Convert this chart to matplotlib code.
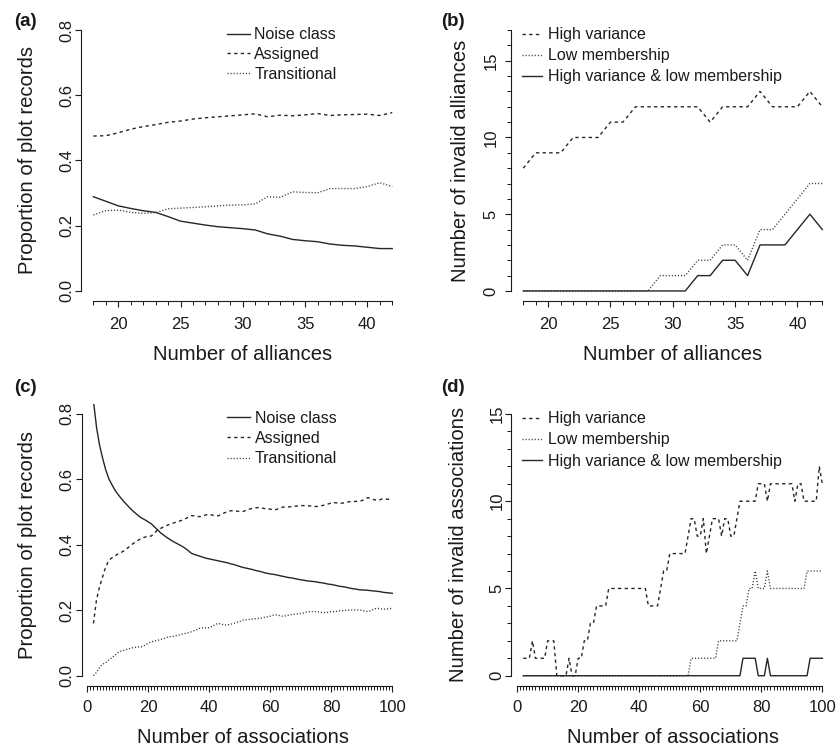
import matplotlib
matplotlib.use("Agg")
import matplotlib.pyplot as plt

plt.rcParams['font.family'] = ['Liberation Sans', 'DejaVu Sans']

# ---------------- data ----------------
alliances = list(range(18, 43))
a_noise = [0.289, 0.275, 0.261, 0.253, 0.246, 0.241, 0.228, 0.214, 0.208, 0.202,
           0.197, 0.194, 0.191, 0.187, 0.175, 0.168, 0.158, 0.154, 0.151, 0.144,
           0.140, 0.138, 0.134, 0.130, 0.130]
a_assigned = [0.475, 0.476, 0.485, 0.496, 0.504, 0.510, 0.517, 0.521, 0.527, 0.531,
              0.534, 0.537, 0.540, 0.543, 0.534, 0.539, 0.537, 0.540, 0.544, 0.538,
              0.540, 0.541, 0.542, 0.538, 0.547]
a_trans = [0.233, 0.246, 0.248, 0.241, 0.238, 0.240, 0.252, 0.254, 0.256, 0.258,
           0.261, 0.263, 0.264, 0.267, 0.289, 0.287, 0.304, 0.302, 0.301, 0.314,
           0.314, 0.314, 0.320, 0.332, 0.320]

b_highvar = [8, 9, 9, 9, 10, 10, 10, 11, 11, 12, 12, 12, 12, 12, 12, 11, 12, 12, 12, 13,
             12, 12, 12, 13, 12]
b_lowmem = [0, 0, 0, 0, 0, 0, 0, 0, 0, 0, 0, 1, 1, 1, 2, 2, 3, 3, 2, 4, 4, 5, 6, 7, 7]
b_both = [0, 0, 0, 0, 0, 0, 0, 0, 0, 0, 0, 0, 0, 0, 1, 1, 2, 2, 1, 3, 3, 3, 4, 5, 4]

associations = list(range(2, 101))
c_noise = [0.840, 0.760, 0.705, 0.665, 0.630, 0.603, 0.585, 0.568, 0.555, 0.543,
           0.532, 0.522, 0.512, 0.503, 0.495, 0.487, 0.481, 0.476, 0.470, 0.464,
           0.455, 0.446, 0.437, 0.430, 0.423, 0.417, 0.411, 0.406, 0.401, 0.396,
           0.390, 0.383, 0.375, 0.371, 0.368, 0.365, 0.362, 0.359, 0.357, 0.355,
           0.353, 0.351, 0.349, 0.347, 0.345, 0.342, 0.340, 0.337, 0.334, 0.331,
           0.329, 0.327, 0.325, 0.322, 0.320, 0.318, 0.315, 0.313, 0.311, 0.310,
           0.308, 0.306, 0.304, 0.302, 0.300, 0.299, 0.297, 0.295, 0.293, 0.292,
           0.290, 0.289, 0.288, 0.287, 0.285, 0.284, 0.282, 0.280, 0.279, 0.277,
           0.275, 0.273, 0.272, 0.270, 0.268, 0.266, 0.265, 0.263, 0.262, 0.262,
           0.261, 0.260, 0.259, 0.258, 0.257, 0.255, 0.254, 0.253, 0.252]
c_assigned = [0.160, 0.232, 0.272, 0.302, 0.332, 0.352, 0.360, 0.366, 0.372, 0.376,
              0.382, 0.389, 0.396, 0.404, 0.410, 0.416, 0.421, 0.424, 0.426, 0.427,
              0.436, 0.445, 0.450, 0.455, 0.459, 0.463, 0.466, 0.469, 0.472, 0.475,
              0.479, 0.484, 0.489, 0.489, 0.487, 0.486, 0.489, 0.492, 0.493, 0.491,
              0.488, 0.489, 0.494, 0.498, 0.501, 0.504, 0.505, 0.503, 0.502, 0.502,
              0.505, 0.509, 0.511, 0.513, 0.514, 0.513, 0.511, 0.511, 0.509, 0.507,
              0.508, 0.512, 0.515, 0.516, 0.516, 0.517, 0.518, 0.519, 0.520, 0.520,
              0.519, 0.519, 0.518, 0.517, 0.518, 0.520, 0.522, 0.525, 0.528, 0.529,
              0.528, 0.527, 0.528, 0.530, 0.532, 0.532, 0.533, 0.533, 0.535, 0.540,
              0.544, 0.542, 0.538, 0.536, 0.538, 0.541, 0.540, 0.539, 0.539]
c_trans = [0.000, 0.010, 0.025, 0.035, 0.040, 0.048, 0.055, 0.062, 0.070, 0.075,
           0.078, 0.081, 0.083, 0.086, 0.087, 0.088, 0.089, 0.094, 0.100, 0.104,
           0.106, 0.108, 0.111, 0.113, 0.117, 0.119, 0.120, 0.122, 0.124, 0.127,
           0.129, 0.131, 0.134, 0.138, 0.141, 0.146, 0.147, 0.146, 0.147, 0.151,
           0.157, 0.160, 0.157, 0.155, 0.155, 0.157, 0.160, 0.163, 0.166, 0.170,
           0.171, 0.172, 0.173, 0.174, 0.175, 0.176, 0.178, 0.180, 0.182, 0.185,
           0.186, 0.184, 0.182, 0.183, 0.185, 0.187, 0.188, 0.189, 0.190, 0.192,
           0.195, 0.196, 0.196, 0.196, 0.195, 0.193, 0.193, 0.194, 0.196, 0.196,
           0.197, 0.199, 0.199, 0.200, 0.201, 0.201, 0.201, 0.201, 0.200, 0.198,
           0.196, 0.199, 0.204, 0.206, 0.205, 0.203, 0.204, 0.205, 0.206]

d_highvar = [1, 1, 1, 2, 1, 1, 1, 1, 2, 2,
             2, 0, 0, 0, 0, 1, 0, 0, 1, 1,
             2, 2, 3, 3, 4, 4, 4, 4, 5, 5,
             5, 5, 5, 5, 5, 5, 5, 5, 5, 5,
             5, 4, 4, 4, 4, 5, 6, 6, 7, 7,
             7, 7, 7, 7, 8, 9, 9, 8, 8, 9,
             7, 8, 9, 9, 9, 8, 9, 9, 8, 8,
             9, 10, 10, 10, 10, 10, 10, 11, 11, 11,
             10, 11, 11, 11, 11, 11, 11, 11, 11, 10,
             11, 11, 10, 10, 10, 10, 10, 12, 11]
d_lowmem = [0, 0, 0, 0, 0, 0, 0, 0, 0, 0,
            0, 0, 0, 0, 0, 0, 0, 0, 0, 0,
            0, 0, 0, 0, 0, 0, 0, 0, 0, 0,
            0, 0, 0, 0, 0, 0, 0, 0, 0, 0,
            0, 0, 0, 0, 0, 0, 0, 0, 0, 0,
            0, 0, 0, 0, 0, 1, 1, 1, 1, 1,
            1, 1, 1, 1, 2, 2, 2, 2, 2, 2,
            2, 3, 4, 4, 5, 5, 6, 5, 5, 5,
            6, 5, 5, 5, 5, 5, 5, 5, 5, 5,
            5, 5, 5, 6, 6, 6, 6, 6, 6]
d_both = [0, 0, 0, 0, 0, 0, 0, 0, 0, 0,
          0, 0, 0, 0, 0, 0, 0, 0, 0, 0,
          0, 0, 0, 0, 0, 0, 0, 0, 0, 0,
          0, 0, 0, 0, 0, 0, 0, 0, 0, 0,
          0, 0, 0, 0, 0, 0, 0, 0, 0, 0,
          0, 0, 0, 0, 0, 0, 0, 0, 0, 0,
          0, 0, 0, 0, 0, 0, 0, 0, 0, 0,
          0, 0, 1, 1, 1, 1, 1, 0, 0, 0,
          1, 0, 0, 0, 0, 0, 0, 0, 0, 0,
          0, 0, 0, 0, 1, 1, 1, 1, 1]

# ---------------- styles ----------------
W, H = 836, 749
DPI = 100
TXT = '#1a1a1a'
LW = 1.0
SOLID = dict(color='#262626', lw=LW, linestyle='-')
DASHED = dict(color='#262626', lw=LW, linestyle=(0, (2.4, 2.4)))
DOTTED = dict(color='#3a3a3a', lw=LW, linestyle=(0, (0.8, 1.4)))

fig = plt.figure(figsize=(W / DPI, H / DPI), dpi=DPI)


def add_ax(l, r, t, b):
    return fig.add_axes([l / W, 1 - b / H, (r - l) / W, (b - t) / H])


def style_axes(ax, xlim, ylim, xbounds, ybounds, xmaj, xmin, ymaj, ymin, ylabfmt,
               ypad, xpad):
    ax.set_xlim(*xlim)
    ax.set_ylim(*ylim)
    for s in ('top', 'right'):
        ax.spines[s].set_visible(False)
    ax.spines['left'].set_bounds(*ybounds)
    ax.spines['bottom'].set_bounds(*xbounds)
    for s in ('left', 'bottom'):
        ax.spines[s].set_linewidth(0.8)
        ax.spines[s].set_color('#1a1a1a')
    ax.set_xticks(xmaj)
    ax.set_xticks(xmin, minor=True)
    ax.set_yticks(ymaj)
    ax.set_yticklabels([ylabfmt(v) for v in ymaj])
    if ymin is not None:
        ax.set_yticks(ymin, minor=True)
    ax.tick_params(which='major', direction='out', length=4.3, width=0.8,
                   colors='#1a1a1a', labelsize=12, labelcolor=TXT)
    ax.tick_params(which='minor', direction='out', length=3.0, width=0.7,
                   colors='#1a1a1a')
    ax.tick_params(axis='y', which='major', pad=ypad, labelrotation=90)
    ax.tick_params(axis='x', which='major', pad=xpad)
    for lab in ax.get_yticklabels():
        lab.set_va('center')
    ax.patch.set_visible(False)


def add_legend(ax, handles, labels, x, y, hl, hp, ls):
    ax.legend(handles, labels, loc='upper left', bbox_to_anchor=(x, y),
              frameon=False, borderpad=0, borderaxespad=0, handlelength=hl,
              handletextpad=hp, labelspacing=ls, fontsize=11.5,
              labelcolor=TXT)


fmt1 = lambda v: f"{v:.1f}"
fmt0 = lambda v: f"{v:d}"

# ---------------- (a) ----------------
ax = add_ax(81.4, 404.2, 19.6, 301.4)
l1, = ax.plot(alliances, a_noise, **SOLID)
l2, = ax.plot(alliances, a_assigned, **DASHED)
l3, = ax.plot(alliances, a_trans, **DOTTED)
style_axes(ax, (17.04, 42.96), (-0.032, 0.832), (18, 42), (0, 0.8),
           [20, 25, 30, 35, 40], list(range(18, 43)), [0, 0.2, 0.4, 0.6, 0.8], None,
           fmt1, 1.0, 7.0)
add_legend(ax, [l1, l2, l3], ['Noise class', 'Assigned', 'Transitional'],
           0.450, 0.973, 1.46, 0.28, 0.30)
ax.set_xlabel('Number of alliances', fontsize=14.6, color=TXT)
ax.set_ylabel('Proportion of plot records', fontsize=14.6, color=TXT)
ax.xaxis.set_label_coords(0.5, -0.187)
ax.xaxis.label.set_va('center')
ax.yaxis.set_label_coords(-0.168, 0.5)
ax.yaxis.label.set_va('center')

# ---------------- (b) ----------------
ax = add_ax(511.3, 834.3, 19.6, 301.4)
l1, = ax.plot(alliances, b_highvar, **DASHED)
l2, = ax.plot(alliances, b_lowmem, **DOTTED)
l3, = ax.plot(alliances, b_both, **SOLID)
style_axes(ax, (17.04, 42.96), (-0.68, 17.68), (18, 42), (0, 17),
           [20, 25, 30, 35, 40], list(range(18, 43)), [0, 5, 10, 15], list(range(0, 18)),
           fmt0, 5.0, 7.0)
add_legend(ax, [l1, l2, l3], ['High variance', 'Low membership',
                              'High variance & low membership'],
           0.032, 0.973, 1.25, 0.41, 0.38)
ax.set_xlabel('Number of alliances', fontsize=14.6, color=TXT)
ax.set_ylabel('Number of invalid alliances', fontsize=14.6, color=TXT)
ax.xaxis.set_label_coords(0.5, -0.187)
ax.xaxis.label.set_va('center')
ax.yaxis.set_label_coords(-0.158, 0.5)
ax.yaxis.label.set_va('center')

# ---------------- (c) ----------------
ax = add_ax(81.5, 404.2, 403.5, 686.2)
l1, = ax.plot(associations, c_noise, **SOLID)
l2, = ax.plot(associations, c_assigned, **DASHED)
l3, = ax.plot(associations, c_trans, **DOTTED)
style_axes(ax, (-1.92, 103.92), (-0.032, 0.832), (0, 100), (0, 0.8),
           [0, 20, 40, 60, 80, 100], list(range(0, 101)), [0, 0.2, 0.4, 0.6, 0.8], None,
           fmt1, 1.0, 5.5)
add_legend(ax, [l1, l2, l3], ['Noise class', 'Assigned', 'Transitional'],
           0.450, 0.975, 1.46, 0.28, 0.34)
ax.set_xlabel('Number of associations', fontsize=14.6, color=TXT)
ax.set_ylabel('Proportion of plot records', fontsize=14.6, color=TXT)
ax.xaxis.set_label_coords(0.5, -0.183)
ax.xaxis.label.set_va('center')
ax.yaxis.set_label_coords(-0.168, 0.5)
ax.yaxis.label.set_va('center')

# ---------------- (d) ----------------
ax = add_ax(511.3, 834.3, 403.5, 686.2)
l1, = ax.plot(associations, d_highvar, **DASHED)
l2, = ax.plot(associations, d_lowmem, **DOTTED)
l3, = ax.plot(associations, d_both, **SOLID)
style_axes(ax, (-1.92, 103.92), (-0.6, 15.6), (0, 100), (0, 15),
           [0, 20, 40, 60, 80, 100], list(range(0, 101)), [0, 5, 10, 15], list(range(0, 16)),
           fmt0, 0.5, 5.5)
add_legend(ax, [l1, l2, l3], ['High variance', 'Low membership',
                              'High variance & low membership'],
           0.032, 0.972, 1.25, 0.41, 0.38)
ax.set_xlabel('Number of associations', fontsize=14.6, color=TXT)
ax.set_ylabel('Number of invalid associations', fontsize=14.6, color=TXT)
ax.xaxis.set_label_coords(0.5, -0.183)
ax.xaxis.label.set_va('center')
ax.yaxis.set_label_coords(-0.165, 0.5)
ax.yaxis.label.set_va('center')

# ---------------- panel letters ----------------
for lab, px, py in [('(a)', 14, 22), ('(b)', 441, 22), ('(c)', 14, 387), ('(d)', 441, 387)]:
    fig.text(px / W, 1 - py / H, lab, fontsize=13.5, fontweight='bold',
             ha='left', va='center', color=TXT)

fig.savefig('out.png', dpi=DPI)
